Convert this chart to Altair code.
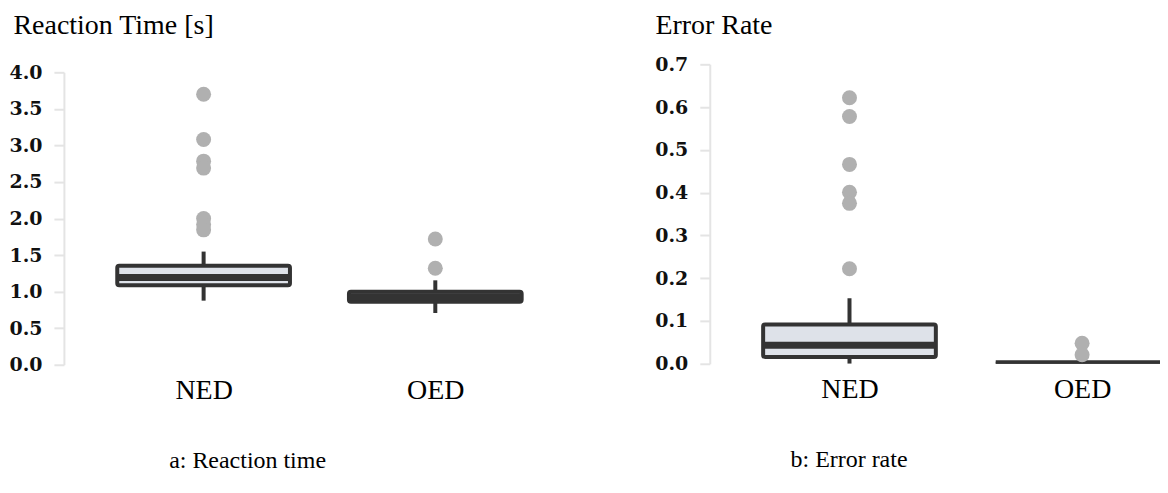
import altair as alt
import pandas as pd

groups = ["NED", "OED"]

# Reaction time [s] box statistics
rt_low = [0.877, 0.708]
rt_q1 = [1.089, 0.863]
rt_median = [1.195, 0.93]
rt_q3 = [1.353, 1.0]
rt_high = [1.548, 1.155]
rt_out_group = ["NED", "NED", "NED", "NED", "NED", "NED", "NED", "OED", "OED"]
rt_out_value = [3.70, 3.08, 2.785, 2.69, 2.00, 1.92, 1.845, 1.72, 1.32]
rt_ticks = [0.0, 0.5, 1.0, 1.5, 2.0, 2.5, 3.0, 3.5, 4.0]

# Error rate box statistics
er_low = [0.0, 0.0]
er_q1 = [0.016, 0.0]
er_median = [0.0436, 0.0]
er_q3 = [0.092, 0.0]
er_high = [0.153, 0.0]
er_out_group = ["NED", "NED", "NED", "NED", "NED", "NED", "OED", "OED"]
er_out_value = [0.622, 0.578, 0.466, 0.401, 0.375, 0.222, 0.048, 0.021]
er_ticks = [0.0, 0.1, 0.2, 0.3, 0.4, 0.5, 0.6, 0.7]

DARK = "#333333"
FILL = "#dee2e9"
OUT = "#b0b0b0"
AXIS_GREY = "#e4e4e4"


def panel(low, q1, med, q3, high, og, ov, ticks, ymax, yrange, ytitle, title_x,
          title_y, width, height, pad, align, caption, cap_dx, clip):
    stats = pd.DataFrame({"group": groups, "low": low, "q1": q1, "median": med,
                          "q3": q3, "high": high})
    outs = pd.DataFrame({"group": og, "value": ov})
    xs = alt.Scale(type="point", domain=groups, padding=pad, align=align)
    ys = alt.Scale(domain=[0, ymax], nice=False, zero=True, range=yrange)
    x_axis = alt.Axis(title=None, domain=False, ticks=False, labelAngle=0,
                      labelFont="Liberation Serif", labelFontSize=28,
                      labelColor="#000000", labelPadding=12, grid=False)
    y_axis = alt.Axis(title=ytitle, titleAngle=0, titleAlign="left",
                      titleBaseline="alphabetic", titleX=title_x, titleY=title_y,
                      titleFont="Liberation Serif", titleFontSize=28,
                      titleFontWeight="normal", titleColor="#000000",
                      values=ticks, format=".1f", labelFont="DejaVu Serif",
                      labelFontSize=19, labelFontWeight="bold",
                      labelColor="#111111", labelPadding=12,
                      tickSize=10, tickColor=AXIS_GREY, tickWidth=2,
                      domainColor=AXIS_GREY, domainWidth=2, grid=False)
    xe = alt.X("group:N", scale=xs, axis=x_axis)
    base = alt.Chart(stats)
    whisk = base.mark_rule(color=DARK, strokeWidth=4, clip=clip).encode(
        x=xe, y=alt.Y("low:Q", scale=ys, axis=y_axis), y2="high:Q")
    box = base.mark_bar(size=173, fill=FILL, stroke=DARK, strokeWidth=4,
                        cornerRadius=2, clip=clip).encode(
        x=xe, y=alt.Y("q1:Q", scale=ys, axis=y_axis), y2="q3:Q")
    mid = base.mark_tick(color=DARK, size=173, thickness=7, clip=clip,
                         opacity=1, orient="horizontal").encode(
        x=xe, y=alt.Y("median:Q", scale=ys, axis=y_axis))
    pts = alt.Chart(outs).mark_circle(size=225, color=OUT, opacity=1,
                                      clip=clip).encode(
        x=xe, y=alt.Y("value:Q", scale=ys, axis=y_axis))
    return alt.layer(whisk, box, mid, pts).properties(
        width=width, height=height,
        view=alt.ViewBackground(stroke="transparent", strokeWidth=0),
        title=alt.TitleParams(caption, orient="bottom", anchor="middle",
                              font="Liberation Serif", fontSize=24,
                              fontWeight="normal", color="#000000",
                              offset=44, dx=cap_dx))


left = panel(rt_low, rt_q1, rt_median, rt_q3, rt_high, rt_out_group, rt_out_value,
             rt_ticks, 4.0, [301, 8], "Reaction Time [s]", -51, -31,
             512, 301, 0.603, 0.5, "a: Reaction time", -72, False)
right = panel(er_low, er_q1, er_median, er_q3, er_high, er_out_group, er_out_value,
              er_ticks, 0.7, [300, 0], "Error Rate", -55, -31,
              451, 300, 0.4678, 0.642, "b: Error rate", -86, True)

chart = alt.hconcat(left, right, spacing=79).properties(
    padding={"left": 0, "top": 3, "right": 0, "bottom": 0}
).configure_view(stroke="transparent", strokeWidth=0).configure(background="white")

chart.save("out.html", embed_options={"renderer": "svg", "actions": False})
